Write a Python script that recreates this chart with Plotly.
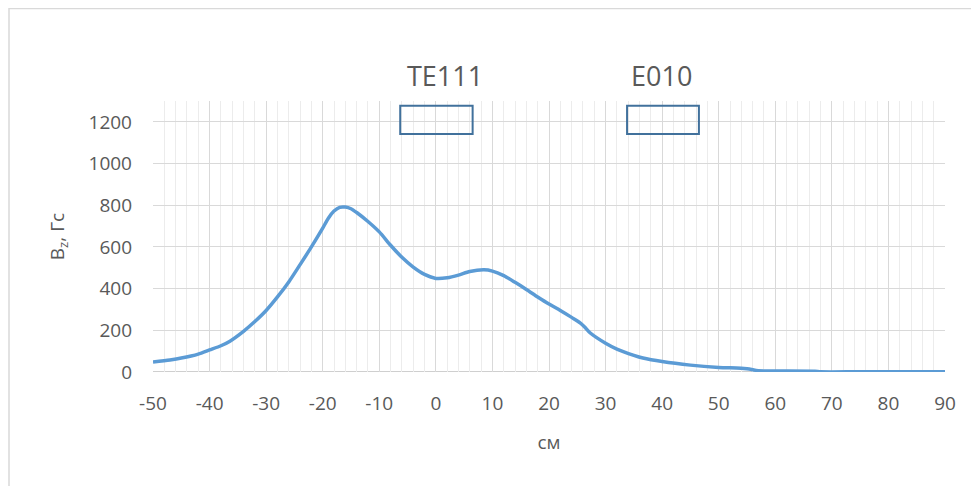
import plotly.graph_objects as go

# Data
x_cm = [-50, -47, -45, -42, -40, -38, -36.4, -34, -32, -30, -28, -26, -24, -22, -20, -19, -18, -17, -16, -15,
        -14, -12, -10, -8, -6, -4, -2, 0, 2, 4, 6, 8.5, 10, 12, 14, 16, 18, 20, 22, 24, 25.5, 26.3,
        27.3, 30, 32, 35, 36.6, 40, 45, 50, 55, 57, 60, 67, 68, 75, 90]
bz_gs = [48, 58, 67, 86, 106, 126, 148, 195, 242, 295, 360, 432, 515, 600, 690, 738, 772, 790, 791, 783,
         765, 722, 672, 608, 550, 503, 468, 449, 452, 465, 482, 490, 484, 462, 430, 396, 360, 326, 295, 262, 236, 216,
         187, 138, 110, 80, 67, 50, 33, 22, 16, 6, 5, 4, 1, 1, 1]

x_ticks = [-50, -40, -30, -20, -10, 0, 10, 20, 30, 40, 50, 60, 70, 80, 90]
x_tick_labels = ["-50", "-40", "-30", "-20", "-10", "0", "10", "20", "30", "40", "50", "60", "70", "80", "90"]
y_ticks = [0, 200, 400, 600, 800, 1000, 1200]

box_labels = ["TE111", "E010"]
label_x = [1.6, 39.8]
box_x0 = [-6.3, 33.8]
box_x1 = [6.5, 46.5]
box_y0 = [1142, 1142]
box_y1 = [1277, 1277]

font_family = "'Open Sans', sans-serif"
txt = "#595959"

fig = go.Figure()
fig.add_trace(go.Scatter(x=x_cm, y=bz_gs, mode="lines",
                         line=dict(color="#5B9BD5", width=3.5, shape="spline", smoothing=0.7),
                         showlegend=False, hoverinfo="x+y"))

for lab, lx, a, b, c, d in zip(box_labels, label_x, box_x0, box_x1, box_y0, box_y1):
    fig.add_shape(type="rect", x0=a, x1=b, y0=c, y1=d, xref="x", yref="y",
                  line=dict(color="#41719C", width=2), fillcolor="rgba(0,0,0,0)")
    fig.add_annotation(x=lx, y=(372 - 75) / 271, xref="x", yref="paper", yanchor="middle",
                       text=lab, showarrow=False,
                       font=dict(size=27, color=txt, family=font_family))

# outer chart border
fig.add_shape(type="rect", xref="paper", yref="paper",
              x0=(9 - 153) / 792, x1=1.2, y0=-1, y1=(372 - 8.5) / 271,
              line=dict(color="#d9d9d9", width=1.5), layer="below")

fig.update_layout(
    width=979, height=486,
    margin=dict(l=145, r=42, t=93, b=122),
    paper_bgcolor="white", plot_bgcolor="white",
    font=dict(family=font_family, color=txt, size=19),
    xaxis=dict(range=[-50, 90], tickvals=x_ticks, ticktext=x_tick_labels, ticks="", showgrid=True,
               gridcolor="#d9d9d9", gridwidth=1.3,
               minor=dict(dtick=2, tick0=0, showgrid=True, gridcolor="#ececec", gridwidth=1.3),
               zeroline=False, showline=False, ticklabelstandoff=18,
               title=dict(text="см", font=dict(size=19, color=txt), standoff=20),
               tickfont=dict(size=19, color=txt)),
    yaxis=dict(range=[0, 1300], tickvals=y_ticks, ticks="", showgrid=True,
               gridcolor="#d9d9d9", gridwidth=1.3, zeroline=False,
               showline=False, ticklabelstandoff=20,
               title=dict(text="B<sub>z</sub>, Гс", font=dict(size=19, color=txt), standoff=18),
               tickfont=dict(size=19, color=txt)),
)
# baseline axis
fig.add_shape(type="line", xref="paper", yref="y", x0=0, x1=1, y0=0, y1=0,
              line=dict(color="#bfbfbf", width=1.5), layer="below")

fig.write_html("out.html")
